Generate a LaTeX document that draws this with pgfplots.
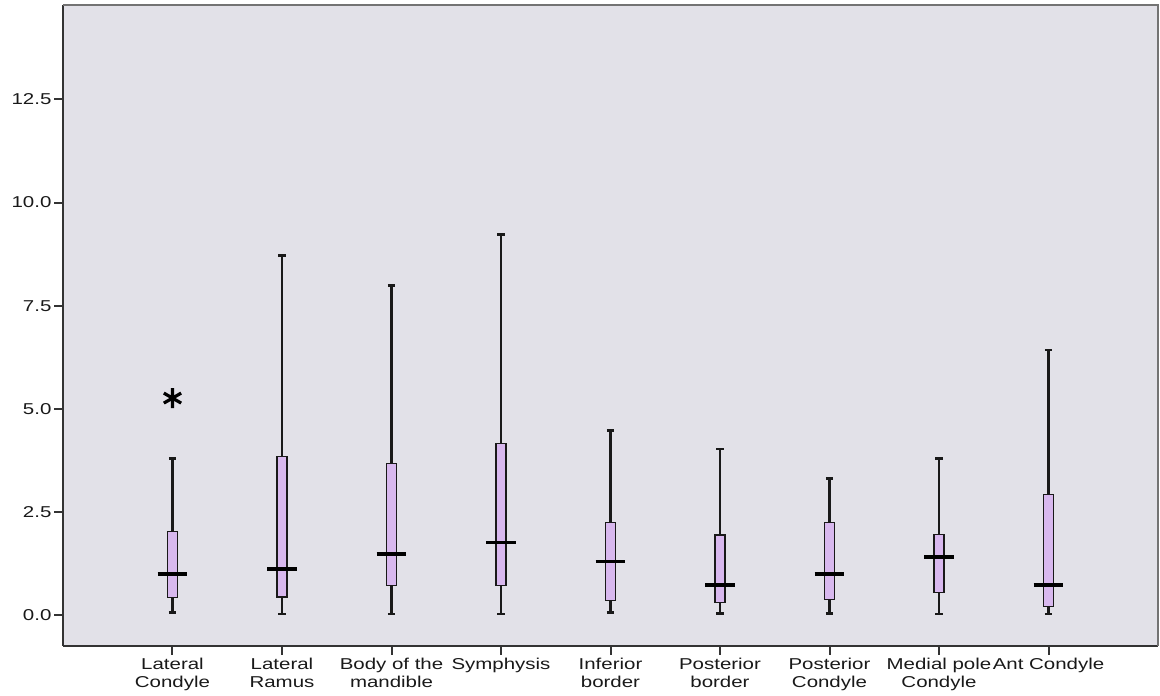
\documentclass[border=0pt]{standalone}
\usepackage{pgfplots}
\pgfplotsset{compat=1.18}
\usepgfplotslibrary{statistics}
\usepackage{fontspec}
\setmainfont{Liberation Sans}[FakeStretch=1.3]
\definecolor{bg}{RGB}{226,225,232}
\definecolor{boxfill}{RGB}{216,184,238}
\definecolor{edge}{RGB}{25,25,25}
\begin{document}
\fontsize{11.8}{12.9}\selectfont
\begin{tikzpicture}
\useasboundingbox (-47.25pt,-37.5pt) rectangle (822.75pt,484.5pt);
\begin{axis}[
  scale only axis, width=821.25pt, height=480.75pt,
  xmin=0, xmax=10, ymin=-0.75, ymax=14.79,
  axis x line*=bottom, axis y line*=left,
  axis line style={black!80, line width=1.5pt, -},
  axis background/.style={fill=bg},
  xtick={1,2,3,4,5,6,7,8,9},
  xticklabels={{Lateral\\Condyle},{Lateral\\Ramus},{Body of the\\mandible},{Symphysis},{Inferior\\border},{Posterior\\border},{Posterior\\Condyle},{Medial pole\\Condyle},{Ant Condyle}},
  xticklabel style={align=center, anchor=north, font=\fontsize{11.8}{12.9}\selectfont, text=black!90, inner sep=2.6pt},
  ytick={0,2.5,5,7.5,10,12.5},
  yticklabel style={/pgf/number format/.cd, fixed, fixed zerofill, precision=1, /tikz/.cd, font=\fontsize{11.8}{12.9}\selectfont, text=black!90, inner sep=2pt},
  /pgf/number format/assume math mode=true,
  tick align=outside, major tick length=6.5pt,
  tick style={black!80, line width=1.5pt},
  boxplot/draw direction=y,
  boxplot/box extend=0.09,
  boxplot/whisker extend=0.065,
  boxplot/every box/.style={draw=edge, fill=boxfill, line width=1.0pt},
  boxplot/every whisker/.style={draw=edge, line width=1.8pt},
  boxplot/every median/.style={draw=black, line width=2.8pt},
  boxplot/draw/median/.code={\draw[/pgfplots/boxplot/every median/.try] (boxplot box cs:\pgfplotsboxplotvalue{median},-1) -- (boxplot box cs:\pgfplotsboxplotvalue{median},2);},
  clip=false,
]
\draw[black!55, line width=1.2pt] (rel axis cs:0,1) -- (rel axis cs:1,1) -- (rel axis cs:1,0);

\addplot[boxplot prepared={draw position=1, lower whisker=0.06, lower quartile=0.42, median=0.99, upper quartile=2.02, upper whisker=3.80},
  mark=asterisk, mark size=7.5pt, mark options={black, line width=2.4pt}]
  table[row sep=\\, y index=0] {5.26\\};
\addplot[boxplot prepared={draw position=2, lower whisker=0.03, lower quartile=0.44, median=1.12, upper quartile=3.85, upper whisker=8.72}] coordinates {};
\addplot[boxplot prepared={draw position=3, lower whisker=0.03, lower quartile=0.71, median=1.48, upper quartile=3.68, upper whisker=7.99}] coordinates {};
\addplot[boxplot prepared={draw position=4, lower whisker=0.03, lower quartile=0.71, median=1.76, upper quartile=4.16, upper whisker=9.23}] coordinates {};
\addplot[boxplot prepared={draw position=5, lower whisker=0.06, lower quartile=0.35, median=1.30, upper quartile=2.25, upper whisker=4.47}] coordinates {};
\addplot[boxplot prepared={draw position=6, lower whisker=0.04, lower quartile=0.30, median=0.73, upper quartile=1.94, upper whisker=4.02}] coordinates {};
\addplot[boxplot prepared={draw position=7, lower whisker=0.04, lower quartile=0.38, median=1.00, upper quartile=2.25, upper whisker=3.31}] coordinates {};
\addplot[boxplot prepared={draw position=8, lower whisker=0.03, lower quartile=0.54, median=1.40, upper quartile=1.96, upper whisker=3.80}] coordinates {};
\addplot[boxplot prepared={draw position=9, lower whisker=0.03, lower quartile=0.20, median=0.73, upper quartile=2.93, upper whisker=6.42}] coordinates {};
\end{axis}
\end{tikzpicture}
\end{document}
